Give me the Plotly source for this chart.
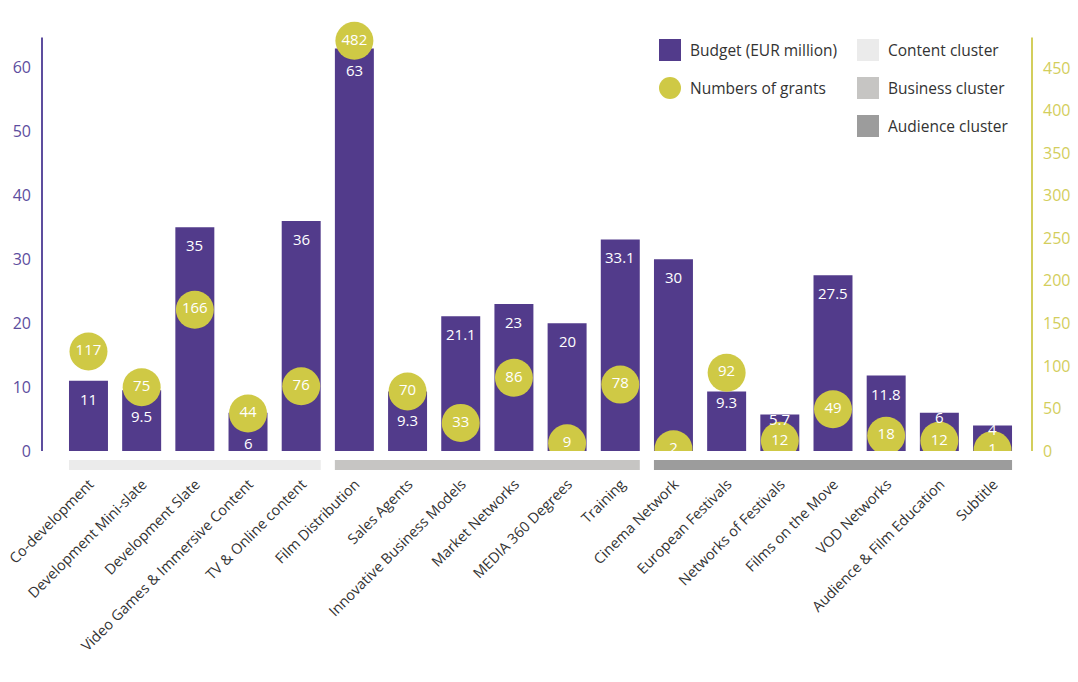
import plotly.graph_objects as go

# ---- data ----
categories = [
    "Co-development", "Development Mini-slate", "Development Slate",
    "Video Games & Immersive Content", "TV & Online content", "Film Distribution",
    "Sales Agents", "Innovative Business Models", "Market Networks",
    "MEDIA 360 Degrees", "Training", "Cinema Network", "European Festivals",
    "Networks of Festivals", "Films on the Move", "VOD Networks",
    "Audience & Film Education", "Subtitle",
]
budget = [11, 9.5, 35, 6, 36, 63, 9.3, 21.1, 23, 20, 33.1, 30, 9.3, 5.7, 27.5, 11.8, 6, 4]
grants = [117, 75, 166, 44, 76, 482, 70, 33, 86, 9, 78, 2, 92, 12, 49, 18, 12, 1]

cluster_names = ["Content cluster", "Business cluster", "Audience cluster"]
cluster_first = [0, 5, 11]
cluster_last = [4, 10, 17]

budget_ticks = [0, 10, 20, 30, 40, 50, 60]
grant_ticks = [0, 50, 100, 150, 200, 250, 300, 350, 400, 450]

# ---- styling ----
W, H = 1078, 682
M_L, M_R, M_T, M_B = 42, 46, 0, 231
PLOT_W = W - M_L - M_R
PLOT_H = H - M_T - M_B

PURPLE = "#523B8B"
PURPLE_AXIS = "#5D4D9E"
YELLOW = "#CFC945"
YELLOW_AXIS = "#D3CE5C"
CLUSTER_COLORS = ["#EBEBEB", "#C6C5C3", "#9C9C9C"]
TEXT = "#333333"
FONT = "Open Sans"
NUM_SIZE = 15
TICK_SIZE = 16

PX_PER_BUDGET = 6.39
PX_PER_GRANT = 0.851
budget_axis_top = 64.7
grant_axis_top = 486
CIRCLE_D = 38


def px_x(px):
    return (px - M_L) / PLOT_W


def px_y(py):
    return (M_T + PLOT_H - py) / PLOT_H


def label_shift(b, g):
    """Vertical pixel shift of a bar's value label from the bar top,
    keeping it clear of the grant bubble drawn over the same bar."""
    r = CIRCLE_D / 2
    half_text = 10
    top = b * PX_PER_BUDGET
    circ = g * PX_PER_GRANT
    lab = top - (18 if top > 60 else 9)
    if abs(lab - circ) < r + half_text:
        below = circ - r - half_text
        if below >= 8:
            lab = below
        else:
            lab = min(circ + r + half_text, top - 4)
    return lab - top


fig = go.Figure()

fig.add_trace(go.Bar(
    x=categories, y=budget, name="Budget (EUR million)",
    marker=dict(color=PURPLE, line=dict(width=0)),
    showlegend=False, hoverinfo="x+y",
))

fig.add_trace(go.Scatter(
    x=categories, y=grants, yaxis="y2", name="Numbers of grants",
    mode="markers+text",
    marker=dict(size=CIRCLE_D, color=YELLOW, line=dict(width=0)),
    text=[str(g) for g in grants], textposition="middle center",
    textfont=dict(family=FONT, size=NUM_SIZE, color="white"),
    cliponaxis=True, showlegend=False, hoverinfo="x+y",
))

annotations = []
# value labels inside the budget bars
for cat, val, g in zip(categories, budget, grants):
    annotations.append(dict(
        x=cat, y=val, xref="x", yref="y", text=f"{val:g}", showarrow=False,
        yanchor="middle", yshift=label_shift(val, g),
        font=dict(family=FONT, size=NUM_SIZE, color="white"),
    ))

shapes = []
# axis lines
shapes.append(dict(type="line", xref="paper", yref="y", x0=0, x1=0, y0=0,
                   y1=budget_axis_top, line=dict(color=PURPLE_AXIS, width=2)))
shapes.append(dict(type="line", xref="paper", yref="y2", x0=1, x1=1, y0=0,
                   y1=grant_axis_top, line=dict(color=YELLOW_AXIS, width=2)))

# cluster bands under the categories
half = 0.367
for first, last, col in zip(cluster_first, cluster_last, CLUSTER_COLORS):
    shapes.append(dict(type="rect", xref="x", yref="paper",
                       x0=first - half, x1=last + half,
                       y0=px_y(470), y1=px_y(460),
                       fillcolor=col, line=dict(width=0), layer="below"))

# legend
legend_font = dict(family=FONT, size=15.5, color=TEXT)
shapes.append(dict(type="rect", xref="paper", yref="paper",
                   x0=px_x(659), x1=px_x(681), y0=px_y(61), y1=px_y(39),
                   fillcolor=PURPLE, line=dict(width=0)))
annotations.append(dict(xref="paper", yref="paper", x=px_x(688), y=px_y(50),
                        xanchor="left", yanchor="middle", showarrow=False,
                        text="Budget (EUR million)", font=legend_font))
shapes.append(dict(type="circle", xref="paper", yref="paper",
                   x0=px_x(659), x1=px_x(681), y0=px_y(99), y1=px_y(77),
                   fillcolor=YELLOW, line=dict(width=0)))
annotations.append(dict(xref="paper", yref="paper", x=px_x(688), y=px_y(88),
                        xanchor="left", yanchor="middle", showarrow=False,
                        text="Numbers of grants", font=legend_font))
for i, (name, col) in enumerate(zip(cluster_names, CLUSTER_COLORS)):
    cy = 50 + 38 * i
    shapes.append(dict(type="rect", xref="paper", yref="paper",
                       x0=px_x(857), x1=px_x(879), y0=px_y(cy + 11), y1=px_y(cy - 11),
                       fillcolor=col, line=dict(width=0)))
    annotations.append(dict(xref="paper", yref="paper", x=px_x(886), y=px_y(cy),
                            xanchor="left", yanchor="middle", showarrow=False,
                            text=name, font=legend_font))

fig.update_layout(
    width=W, height=H, autosize=False,
    margin=dict(l=M_L, r=M_R, t=M_T, b=M_B, pad=0, autoexpand=False),
    paper_bgcolor="white", plot_bgcolor="white",
    font=dict(family=FONT, color=TEXT),
    bargap=0.267,
    xaxis=dict(
        type="category", range=[-0.874, 17.742], automargin=False,
        tickangle=-45, tickfont=dict(family=FONT, size=14.5, color=TEXT),
        showgrid=False, zeroline=False, showline=False, ticks="",
        ticklabelstandoff=21, ticklabelshift=1,
    ),
    yaxis=dict(
        range=[0, PLOT_H / PX_PER_BUDGET], tickvals=budget_ticks, automargin=False,
        tickfont=dict(family=FONT, size=TICK_SIZE, color=PURPLE_AXIS),
        showgrid=False, zeroline=False, showline=False, ticks="",
        ticklabelstandoff=10,
    ),
    yaxis2=dict(
        overlaying="y", side="right", automargin=False,
        range=[0, PLOT_H / PX_PER_GRANT], tickvals=grant_ticks,
        tickfont=dict(family=FONT, size=TICK_SIZE, color=YELLOW_AXIS),
        showgrid=False, zeroline=False, showline=False, ticks="",
        ticklabelstandoff=10,
    ),
    shapes=shapes, annotations=annotations,
    showlegend=False,
)

fig.write_html("out.html")
